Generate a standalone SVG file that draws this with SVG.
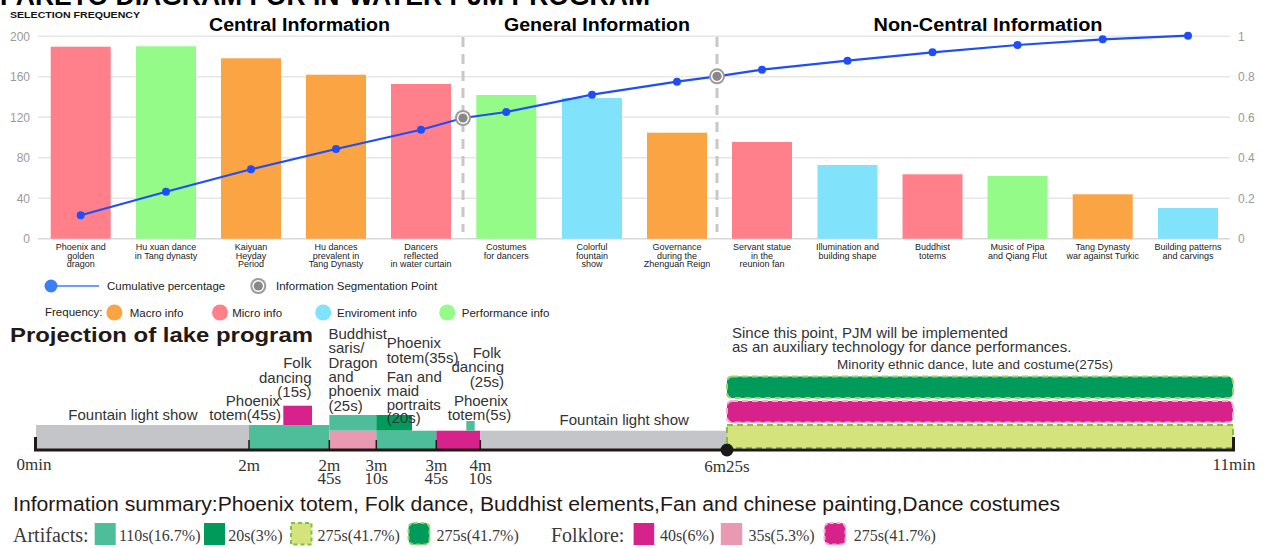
<svg xmlns="http://www.w3.org/2000/svg" width="1263" height="548" viewBox="0 0 1263 548" font-family="'Liberation Sans', Arial, sans-serif">
<defs>
<style>
.ax{font-size:12px;fill:#9a9a9a}
.axl{text-anchor:end}
.cat{font-size:9px;fill:#222;text-anchor:middle}
.sec{font-weight:bold;font-size:17.5px;fill:#000;text-anchor:middle}
.grid{stroke:#e6e6e6;stroke-width:1.5}
.lg{font-size:11.5px;fill:#222}
.tl{font-size:15px;fill:#333}
.end{text-anchor:end}
.mid{text-anchor:middle}
.serif{font-family:"Liberation Serif","Times New Roman",serif}
.tm{font-family:"Liberation Serif","Times New Roman",serif;font-size:17px;fill:#333;text-anchor:middle}
.sm{font-family:"Liberation Serif","Times New Roman",serif;font-size:16px;fill:#3a3a3a}
.pink{fill:#ff808a}.green{fill:#94fb89}.orange{fill:#fba444}.cyan{fill:#80e3fb}
.teal{fill:#4dbd9a}.dg{fill:#009a5a}.mag{fill:#d6228a}.lp{fill:#e999b1}.gray{fill:#c3c5c8}
.dash{stroke-width:2;stroke-dasharray:6 4}
.seg{stroke:#c8c8c8;stroke-width:3;stroke-dasharray:10 7}
</style>
<g id="segIcon">
<circle r="8" fill="#9c9c9c"/><circle r="6" fill="#fff"/><circle r="4.6" fill="#888"/>
</g>
</defs>
<rect width="1263" height="548" fill="#fff"/>

<text x="0" y="5" font-size="27" font-weight="900" textLength="650" lengthAdjust="spacingAndGlyphs">PARETO DIAGRAM FOR IN-WATER PJM PROGRAM</text>
<text x="10" y="17.5" font-size="9.5" font-weight="bold" fill="#111" textLength="130" lengthAdjust="spacingAndGlyphs">SELECTION FREQUENCY</text>

<g id="grid">
<line class="grid" x1="38" y1="36.3" x2="1230" y2="36.3"/>
<line class="grid" x1="38" y1="76.8" x2="1230" y2="76.8"/>
<line class="grid" x1="38" y1="117.3" x2="1230" y2="117.3"/>
<line class="grid" x1="38" y1="157.8" x2="1230" y2="157.8"/>
<line class="grid" x1="38" y1="198.2" x2="1230" y2="198.2"/>
<line x1="38" y1="238.7" x2="1230" y2="238.7" stroke="#d8d8d8" stroke-width="1.5"/>
</g>
<g id="axis-left" class="ax axl">
<text x="30" y="40.5">200</text><text x="30" y="81">160</text><text x="30" y="121.5">120</text>
<text x="30" y="162">80</text><text x="30" y="202.5">40</text><text x="30" y="243">0</text>
</g>
<g id="axis-right" class="ax">
<text x="1238" y="40.5">1</text><text x="1238" y="81">0.8</text><text x="1238" y="121.5">0.6</text>
<text x="1238" y="162">0.4</text><text x="1238" y="202.5">0.2</text><text x="1238" y="243">0</text>
</g>

<g id="sections">
<text class="sec" x="299.5" y="31" textLength="181" lengthAdjust="spacingAndGlyphs">Central Information</text>
<text class="sec" x="597" y="31" textLength="186" lengthAdjust="spacingAndGlyphs">General Information</text>
<text class="sec" x="988" y="31" textLength="229" lengthAdjust="spacingAndGlyphs">Non-Central Information</text>
</g>

<g id="bars">
<rect class="pink" x="50.7" y="46.7" width="60" height="192"/>
<rect class="green" x="136" y="46.3" width="60" height="192.4"/>
<rect class="orange" x="221" y="58.3" width="60" height="180.4"/>
<rect class="orange" x="306" y="74.7" width="60" height="164"/>
<rect class="pink" x="391" y="84" width="60" height="154.7"/>
<rect class="green" x="476.3" y="95" width="60" height="143.7"/>
<rect class="cyan" x="562" y="98" width="60" height="140.7"/>
<rect class="orange" x="647" y="132.7" width="60" height="106"/>
<rect class="pink" x="732" y="142" width="60" height="96.7"/>
<rect class="cyan" x="817.5" y="165" width="60" height="73.7"/>
<rect class="pink" x="902.5" y="174.3" width="60" height="64.4"/>
<rect class="green" x="987.5" y="176" width="60" height="62.7"/>
<rect class="orange" x="1072.7" y="194.3" width="60" height="44.4"/>
<rect class="cyan" x="1158" y="208" width="60" height="30.7"/>
</g>

<g id="categories" class="cat">
<text x="80.7" y="250.3">Phoenix and</text><text x="80.7" y="258.6">golden</text><text x="80.7" y="266.9">dragon</text>
<text x="166" y="250.3">Hu xuan dance</text><text x="166" y="258.6">in Tang dynasty</text>
<text x="251" y="250.3">Kaiyuan</text><text x="251" y="258.6">Heyday</text><text x="251" y="266.9">Period</text>
<text x="336" y="250.3">Hu dances</text><text x="336" y="258.6">prevalent in</text><text x="336" y="266.9">Tang Dynasty</text>
<text x="421" y="250.3">Dancers</text><text x="421" y="258.6">reflected</text><text x="421" y="266.9">in water curtain</text>
<text x="506.3" y="250.3">Costumes</text><text x="506.3" y="258.6">for dancers</text>
<text x="592" y="250.3">Colorful</text><text x="592" y="258.6">fountain</text><text x="592" y="266.9">show</text>
<text x="677" y="250.3">Governance</text><text x="677" y="258.6">during the</text><text x="677" y="266.9">Zhenguan Reign</text>
<text x="762" y="250.3">Servant statue</text><text x="762" y="258.6">in the</text><text x="762" y="266.9">reunion fan</text>
<text x="847.5" y="250.3">Illumination and</text><text x="847.5" y="258.6">building shape</text>
<text x="932.5" y="250.3">Buddhist</text><text x="932.5" y="258.6">totems</text>
<text x="1017.5" y="250.3">Music of Pipa</text><text x="1017.5" y="258.6">and Qiang Flut</text>
<text x="1102.7" y="250.3">Tang Dynasty</text><text x="1102.7" y="258.6">war against Turkic</text>
<text x="1188" y="250.3">Building patterns</text><text x="1188" y="258.6">and carvings</text>
</g>

<g id="connectors">
<line class="seg" x1="463" y1="37" x2="463" y2="232"/>
<line class="seg" x1="717" y1="37" x2="717" y2="232"/>
<polyline fill="none" stroke="#1f4ef8" stroke-width="2.2" points="80.7,215.3 166,191.7 251,169.3 336,149 421,129.7 463,118 506.3,112 592,94.7 677,81.7 717,76.3 762,69.7 847.5,60.7 932.5,52.3 1017.5,45 1102.7,39.3 1188,35.7"/>
</g>
<g id="cum-points" fill="#1f4ef8">
<circle cx="80.7" cy="215.3" r="4"/><circle cx="166" cy="191.7" r="4"/><circle cx="251" cy="169.3" r="4"/>
<circle cx="336" cy="149" r="4"/><circle cx="421" cy="129.7" r="4"/><circle cx="506.3" cy="112" r="4"/>
<circle cx="592" cy="94.7" r="4"/><circle cx="677" cy="81.7" r="4"/><circle cx="762" cy="69.7" r="4"/>
<circle cx="847.5" cy="60.7" r="4"/><circle cx="932.5" cy="52.3" r="4"/><circle cx="1017.5" cy="45" r="4"/>
<circle cx="1102.7" cy="39.3" r="4"/><circle cx="1188" cy="35.7" r="4"/>
</g>
<g id="seg-points">
<use href="#segIcon" x="463" y="118"/>
<use href="#segIcon" x="717" y="76.3"/>
</g>

<g id="legend">
<line x1="51" y1="286" x2="99" y2="286" stroke="#3b7ff5" stroke-width="1.6"/>
<circle cx="51" cy="286" r="6.5" fill="#3b7ff5"/>
<text class="lg" x="107" y="290">Cumulative percentage</text>
<use href="#segIcon" x="258.3" y="286"/>
<text class="lg" x="276" y="290">Information Segmentation Point</text>
<text class="lg" x="45" y="316">Frequency:</text>
<circle class="orange" cx="114.4" cy="312.5" r="8"/><text class="lg" x="129.7" y="316.5">Macro info</text>
<circle class="pink" cx="220" cy="312.5" r="8"/><text class="lg" x="232.2" y="316.5">Micro info</text>
<circle class="cyan" cx="323.2" cy="312.5" r="8"/><text class="lg" x="337" y="316.5">Enviroment info</text>
<circle class="green" cx="447.2" cy="312.5" r="8"/><text class="lg" x="461.8" y="316.5">Performance info</text>
</g>

<text x="10" y="341.7" font-size="19.5" font-weight="900" fill="#231815" textLength="303" lengthAdjust="spacingAndGlyphs">Projection of lake program</text>

<g id="timeline-bars">
<rect class="gray" x="36" y="425" width="213" height="24"/>
<rect class="teal" x="249" y="425" width="80.3" height="24"/>
<rect class="mag" x="283.3" y="405.7" width="28.7" height="19.3"/>
<rect class="teal" x="329.3" y="415" width="47" height="15.7"/>
<rect class="lp" x="329.3" y="430.7" width="47" height="18.3"/>
<rect class="dg" x="376.3" y="415" width="35.7" height="15.7"/>
<rect class="teal" x="376.3" y="430.7" width="60" height="18.3"/>
<rect class="mag" x="436.3" y="430.7" width="44" height="18.3"/>
<rect class="teal" x="466.3" y="421" width="8.4" height="9.7"/>
<rect class="gray" x="480.3" y="430.7" width="246.7" height="18.3"/>
<rect class="dg dash" x="727" y="376.5" width="506" height="21.5" rx="5" stroke="#9ad46a"/>
<rect class="mag dash" x="727" y="401" width="506" height="21.5" rx="5" stroke="#f3b0cf"/>
<rect x="727" y="425" width="506" height="23" fill="#d4e37b" stroke="#7dc242" class="dash"/>
</g>

<g id="timeline-axis" stroke="#231815">
<line x1="34" y1="450" x2="1235" y2="450" stroke-width="3"/>
<line x1="35.5" y1="437" x2="35.5" y2="451" stroke-width="3"/>
<line x1="1233.5" y1="437" x2="1233.5" y2="451" stroke-width="3"/>
<line x1="249" y1="440" x2="249" y2="450" stroke-width="1.5"/>
<line x1="329.3" y1="440" x2="329.3" y2="450" stroke-width="1.5"/>
<line x1="376.3" y1="440" x2="376.3" y2="450" stroke-width="1.5"/>
<line x1="436.3" y1="440" x2="436.3" y2="450" stroke-width="1.5"/>
<line x1="480.3" y1="440" x2="480.3" y2="450" stroke-width="1.5"/>
</g>
<circle cx="727" cy="450" r="6.5" fill="#1a1a1a"/>

<g id="timeline-labels" class="tl">
<text x="68.3" y="420">Fountain light show</text>
<text class="end" x="280" y="405.7">Phoenix</text>
<text class="end" x="281" y="420">totem(45s)</text>
<text class="end" x="311.5" y="368.3">Folk</text>
<text class="end" x="311.5" y="383.3">dancing</text>
<text class="end" x="311.5" y="397">(15s)</text>
<text x="328.5" y="339">Buddhist</text>
<text x="328.5" y="353.3">saris/</text>
<text x="328.5" y="367.7">Dragon</text>
<text x="328.5" y="382">and</text>
<text x="328.5" y="396">phoenix</text>
<text x="328.5" y="410.5">(25s)</text>
<text x="386.7" y="348.3">Phoenix</text>
<text x="386.7" y="363.3">totem(35s)</text>
<text x="386.7" y="381.7">Fan and</text>
<text x="386.7" y="396">maid</text>
<text x="386.7" y="410">portraits</text>
<text x="386.7" y="423.3">(20s)</text>
<text class="end" x="501" y="357.7">Folk</text>
<text class="end" x="504" y="372.3">dancing</text>
<text class="end" x="504" y="386.7">(25s)</text>
<text class="mid" x="481" y="405.7">Phoenix</text>
<text class="mid" x="479.5" y="420">totem(5s)</text>
<text x="559.6" y="425">Fountain light show</text>
<text x="732" y="338.3">Since this point, PJM will be implemented</text>
<text x="732" y="352.3">as an auxiliary technology for dance performances.</text>
<text class="mid" x="975" y="368.5" font-size="13.5">Minority ethnic dance, lute and costume(275s)</text>
</g>

<g id="time-marks">
<text class="tm" x="34" y="470">0min</text>
<text class="tm" x="249" y="471">2m</text>
<text class="tm" x="329.3" y="471">2m</text><text class="tm" x="329.3" y="484">45s</text>
<text class="tm" x="376.3" y="471">3m</text><text class="tm" x="376.3" y="484">10s</text>
<text class="tm" x="436.3" y="471">3m</text><text class="tm" x="436.3" y="484">45s</text>
<text class="tm" x="480.3" y="471">4m</text><text class="tm" x="480.3" y="484">10s</text>
<text class="tm" x="727" y="471.5">6m25s</text>
<text class="tm" x="1234" y="469.5">11min</text>
</g>

<text x="13" y="511" font-size="20" fill="#231815" textLength="1047" lengthAdjust="spacingAndGlyphs">Information summary:Phoenix totem, Folk dance, Buddhist elements,Fan and chinese painting,Dance costumes</text>

<g id="summary-legend">
<text class="serif" x="13" y="542" font-size="20" fill="#3a3a3a">Artifacts:</text>
<rect class="teal" x="94.7" y="523" width="21" height="22"/>
<text class="sm" x="118.9" y="541">110s(16.7%)</text>
<rect class="dg" x="204" y="523" width="21" height="22"/>
<text class="sm" x="228.3" y="541">20s(3%)</text>
<rect x="291" y="523" width="20.5" height="21.5" fill="#d4e37b" stroke="#7dc242" stroke-width="2" stroke-dasharray="4 3"/>
<text class="sm" x="317.6" y="541">275s(41.7%)</text>
<rect class="dg" x="408.5" y="523" width="21" height="21.5" rx="5" stroke="#9ad46a" stroke-width="2" stroke-dasharray="4 3"/>
<text class="sm" x="436.5" y="541">275s(41.7%)</text>
<text class="serif" x="551" y="542" font-size="20" fill="#3a3a3a">Folklore:</text>
<rect class="mag" x="633.6" y="523" width="20.6" height="22"/>
<text class="sm" x="660" y="541">40s(6%)</text>
<rect class="lp" x="720.8" y="523" width="21.4" height="22"/>
<text class="sm" x="748.4" y="541">35s(5.3%)</text>
<rect class="mag" x="824.5" y="523" width="21" height="21.5" rx="5" stroke="#f3b0cf" stroke-width="2" stroke-dasharray="4 3"/>
<text class="sm" x="853.7" y="541">275s(41.7%)</text>
</g>
</svg>
